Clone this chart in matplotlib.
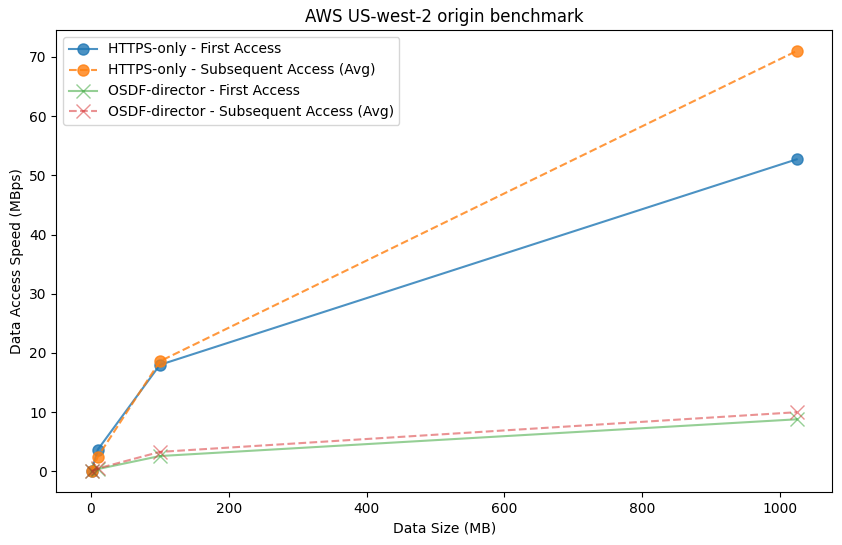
import matplotlib
matplotlib.use("Agg")
import matplotlib.pyplot as plt

# data sizes in MB
sizes = [1, 10, 100, 1024]
https_first = [0.1, 3.7, 18.0, 52.7]
https_subseq = [0.1, 2.5, 18.6, 71.0]
osdf_first = [0.05, 0.4, 2.6, 8.8]
osdf_subseq = [0.05, 0.5, 3.3, 10.0]

fig, ax = plt.subplots(figsize=(8.42, 5.45), dpi=100)
fig.subplots_adjust(left=0.067, right=0.988, top=0.945, bottom=0.097)

ax.plot(sizes, https_first, 'o-', color='C0', alpha=0.8, markersize=8,
        label='HTTPS-only - First Access')
ax.plot(sizes, https_subseq, 'o--', color='C1', alpha=0.8, markersize=8,
        label='HTTPS-only - Subsequent Access (Avg)')
ax.plot(sizes, osdf_first, 'x-', color='C2', alpha=0.5, markersize=10,
        label='OSDF-director - First Access')
ax.plot(sizes, osdf_subseq, 'x--', color='C3', alpha=0.5, markersize=10,
        label='OSDF-director - Subsequent Access (Avg)')

ax.set_xlabel('Data Size (MB)')
ax.set_ylabel('Data Access Speed (MBps)')
ax.set_title('AWS US-west-2 origin benchmark')
ax.legend(loc='upper left')

fig.savefig('out.png')
